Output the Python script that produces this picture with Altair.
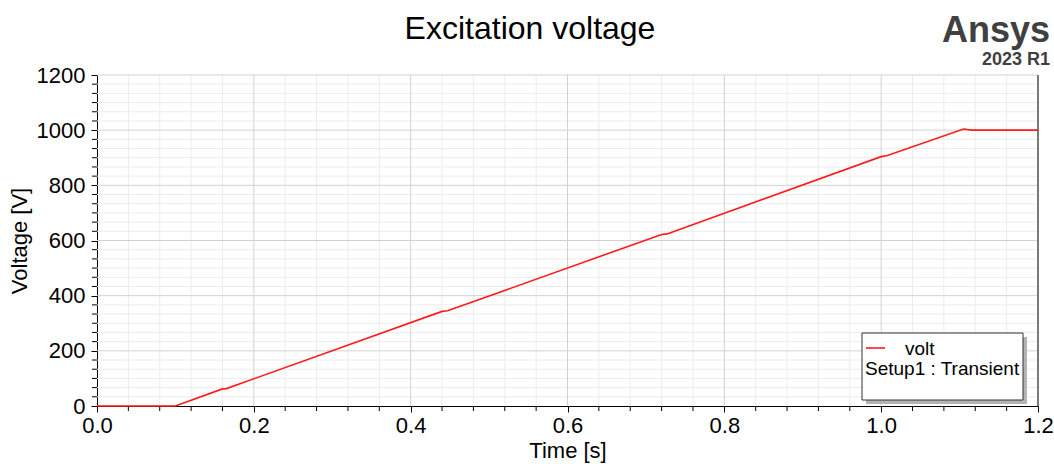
import altair as alt
import numpy as np
import pandas as pd

# Excitation voltage waveform (time in s, voltage in V)
time_s = [0.0, 0.1, 0.16, 0.165, 0.44, 0.447, 0.72, 0.727, 1.0, 1.007, 1.105, 1.115, 1.2]
volt_v = [0.0, 0.0, 62.0, 63.0, 343.0, 345.0, 622.0, 624.0, 904.0, 907.0, 1004.0, 1000.0, 1000.0]

x_major = [0.0, 0.2, 0.4, 0.6, 0.8, 1.0, 1.2]
y_major = [0, 200, 400, 600, 800, 1000, 1200]
x_minor = [round(v, 2) for v in np.arange(0.04, 1.2, 0.04) if abs(v / 0.2 - round(v / 0.2)) > 1e-6]
y_minor = [round(v, 2) for v in np.arange(200 / 6, 1200, 200 / 6) if abs(v / 200 - round(v / 200)) > 1e-6]

W, H = 941, 331
FONT = "Liberation Sans"

line_df = pd.DataFrame({"t": time_s, "v": volt_v})
xs = alt.Scale(domain=[0, 1.2], nice=False, zero=False)
ys = alt.Scale(domain=[0, 1200], nice=False)

xminor_grid = alt.Chart(pd.DataFrame({"t": x_minor})).mark_rule(color="#ececec", strokeWidth=1).encode(
    x=alt.X("t:Q", scale=xs))
yminor_grid = alt.Chart(pd.DataFrame({"v": y_minor})).mark_rule(color="#ececec", strokeWidth=1).encode(
    y=alt.Y("v:Q", scale=ys))
xmajor_grid = alt.Chart(pd.DataFrame({"t": x_major[1:-1]})).mark_rule(color="#d2d2d2", strokeWidth=1).encode(
    x=alt.X("t:Q", scale=xs))
ymajor_grid = alt.Chart(pd.DataFrame({"v": y_major[1:]})).mark_rule(color="#d2d2d2", strokeWidth=1).encode(
    y=alt.Y("v:Q", scale=ys))

# short minor ticks outside the axes
xminor_ticks = alt.Chart(pd.DataFrame({"t": x_minor})).mark_rule(color="black", strokeWidth=1).encode(
    x=alt.X("t:Q", scale=xs), y=alt.value(H), y2=alt.value(H + 5))
yminor_ticks = alt.Chart(pd.DataFrame({"v": y_minor})).mark_rule(color="black", strokeWidth=1).encode(
    y=alt.Y("v:Q", scale=ys), x=alt.value(-5), x2=alt.value(0))

right_border = alt.Chart(pd.DataFrame({"t": [1.2]})).mark_rule(color="#7a7a7a", strokeWidth=2).encode(
    x=alt.X("t:Q", scale=xs))

line = alt.Chart(line_df).mark_line(color="#ff1a1a", strokeWidth=1.6).encode(
    x=alt.X("t:Q", scale=xs, title="Time [s]",
            axis=alt.Axis(values=x_major, format=".1f", grid=False, domainColor="black",
                          tickColor="black", tickSize=6, labelFontSize=22, labelFont=FONT,
                          labelColor="black", labelPadding=3, titleFont=FONT, titleFontSize=22,
                          titleFontWeight="normal", titleColor="black", titlePadding=4,
                          labelFlush=False)),
    y=alt.Y("v:Q", scale=ys, title="Voltage [V]",
            axis=alt.Axis(values=y_major, format="d", grid=False, domainColor="black",
                          tickColor="black", tickSize=6, labelFontSize=22, labelFont=FONT,
                          labelColor="black", labelPadding=6, titleFont=FONT, titleFontSize=22,
                          titleFontWeight="normal", titleColor="black", titlePadding=5)),
)

# legend box with drop shadow
bx0, bx1, by0, by1 = 765, 926, 258, 325
shadow = alt.Chart(pd.DataFrame({"a": [0]})).mark_rect(color="#b4b4b4").encode(
    x=alt.value(bx0 + 4), x2=alt.value(bx1 + 4), y=alt.value(by0 + 4), y2=alt.value(by1 + 4))
box = alt.Chart(pd.DataFrame({"a": [0]})).mark_rect(fill="white", stroke="#333333", strokeWidth=1).encode(
    x=alt.value(bx0), x2=alt.value(bx1), y=alt.value(by0), y2=alt.value(by1))
key = alt.Chart(pd.DataFrame({"a": [0]})).mark_rule(color="#ff1a1a", strokeWidth=1.6).encode(
    x=alt.value(769), x2=alt.value(788), y=alt.value(273))
legend_text = alt.Chart(pd.DataFrame({
    "label": ["volt", "Setup1 : Transient"],
    "px": [808, 768],
    "py": [280, 300],
})).mark_text(align="left", baseline="alphabetic", font=FONT, fontSize=19, color="black").encode(
    text="label:N", x=alt.X("px:Q", scale=None), y=alt.Y("py:Q", scale=None))

title = alt.Chart(pd.DataFrame({"s": ["Excitation voltage"]})).mark_text(
    align="center", baseline="alphabetic", font=FONT, fontSize=32, color="black").encode(
    text="s:N", x=alt.value(433), y=alt.value(-36))
brand = alt.Chart(pd.DataFrame({"s": ["Ansys"]})).mark_text(
    align="right", baseline="alphabetic", font=FONT, fontSize=36, fontWeight="bold", color="#404040").encode(
    text="s:N", x=alt.value(953), y=alt.value(-33))
version = alt.Chart(pd.DataFrame({"s": ["2023 R1"]})).mark_text(
    align="right", baseline="alphabetic", font=FONT, fontSize=18, fontWeight="bold", color="#404040").encode(
    text="s:N", x=alt.value(953), y=alt.value(-10))

chart = alt.layer(
    xminor_grid, yminor_grid, xmajor_grid, ymajor_grid, xminor_ticks, yminor_ticks,
    right_border, line, shadow, box, key, legend_text, title, brand, version,
).properties(
    width=W, height=H,
    autosize=alt.AutoSizeParams(type="none"),
    padding={"left": 97, "top": 75, "right": 16, "bottom": 58},
    background="white",
).configure_view(stroke=None)

chart.save("out.html", embed_options={"renderer": "svg", "actions": False})
